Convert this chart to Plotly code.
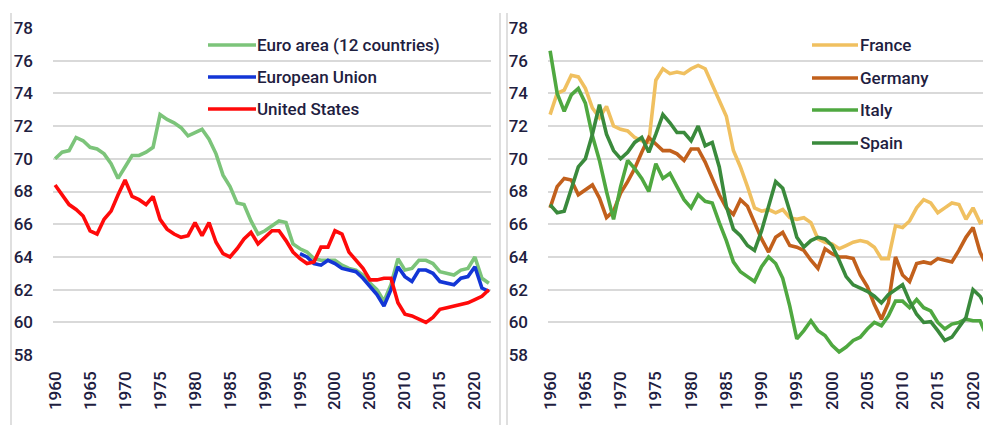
import plotly.graph_objects as go

years = list(range(1960, 2023))
eu_years = list(range(1995, 2023))

euro_area = [70.0, 70.4, 70.5, 71.3, 71.1, 70.7, 70.6, 70.3, 69.7, 68.8,
             69.5, 70.2, 70.2, 70.4, 70.7, 72.7, 72.4, 72.2, 71.9, 71.4,
             71.6, 71.8, 71.2, 70.3, 69.0, 68.3, 67.3, 67.2, 66.2, 65.4,
             65.6, 65.9, 66.2, 66.1, 64.8, 64.5, 64.3, 63.9, 63.8, 63.8,
             63.8, 63.5, 63.3, 63.2, 62.9, 62.4, 62.0, 61.3, 62.3, 63.9,
             63.2, 63.3, 63.8, 63.8, 63.6, 63.1, 63.0, 62.9, 63.2, 63.3,
             64.0, 62.7, 62.4]
european_union = [64.2, 64.0, 63.6, 63.5, 63.8, 63.6, 63.3, 63.2, 63.1, 62.7,
                  62.2, 61.7, 61.0, 62.0, 63.4, 62.8, 62.5, 63.2, 63.2, 63.0,
                  62.5, 62.4, 62.3, 62.7, 62.8, 63.4, 62.1, 61.9]
united_states = [68.4, 67.8, 67.2, 66.9, 66.5, 65.6, 65.4, 66.3, 66.8, 67.8,
                 68.7, 67.7, 67.5, 67.2, 67.7, 66.3, 65.7, 65.4, 65.2, 65.3,
                 66.1, 65.3, 66.1, 64.9, 64.2, 64.0, 64.5, 65.1, 65.5, 64.8,
                 65.2, 65.6, 65.6, 65.0, 64.3, 63.9, 63.6, 63.7, 64.6, 64.6,
                 65.6, 65.4, 64.3, 63.8, 63.3, 62.6, 62.6, 62.7, 62.7, 61.2,
                 60.5, 60.4, 60.2, 60.0, 60.3, 60.8, 60.9, 61.0, 61.1, 61.2,
                 61.4, 61.6, 62.0]

france = [72.7, 74.0, 74.2, 75.1, 75.0, 74.3, 73.1, 72.5, 73.2, 72.0,
          71.8, 71.7, 71.3, 71.1, 71.0, 74.8, 75.5, 75.2, 75.3, 75.2,
          75.5, 75.7, 75.5, 74.5, 73.5, 72.6, 70.5, 69.5, 68.3, 67.0,
          66.8, 66.9, 66.7, 66.9, 66.4, 66.3, 66.4, 66.1, 65.1, 64.9,
          64.8, 64.5, 64.7, 64.9, 65.0, 64.9, 64.6, 63.9, 63.9, 65.9,
          65.8, 66.2, 67.0, 67.5, 67.3, 66.7, 67.0, 67.3, 67.2, 66.3,
          67.0, 66.1, 66.3]
germany = [67.0, 68.3, 68.8, 68.7, 67.8, 68.1, 68.4, 67.6, 66.4, 66.8,
           67.9, 68.6, 69.4, 70.4, 71.3, 70.9, 70.5, 70.5, 70.3, 69.9,
           70.6, 70.6, 69.8, 68.8, 67.8, 67.0, 66.6, 67.5, 67.1, 66.1,
           65.1, 64.3, 65.2, 65.5, 64.7, 64.6, 64.4, 63.8, 63.3, 64.5,
           64.2, 64.0, 64.0, 63.9, 62.9, 62.2, 61.1, 60.2, 61.2, 64.0,
           62.9, 62.5, 63.6, 63.7, 63.6, 63.9, 63.8, 63.7, 64.4, 65.2,
           65.8, 64.3, 63.4]
italy = [76.6, 74.0, 72.9, 73.9, 74.3, 73.4, 71.4, 69.9, 68.0, 66.3,
         68.3, 69.9, 69.4, 68.8, 68.0, 69.7, 68.8, 69.1, 68.3, 67.5,
         67.0, 67.8, 67.4, 67.3, 66.1, 65.0, 63.7, 63.1, 62.8, 62.5,
         63.4, 64.0, 63.6, 62.7, 61.0, 59.0, 59.5, 60.1, 59.5, 59.2,
         58.6, 58.2, 58.5, 58.9, 59.1, 59.6, 60.0, 59.8, 60.4, 61.3,
         61.3, 60.9, 61.4, 60.9, 60.7, 60.0, 59.6, 59.9, 60.0, 60.2,
         60.1, 60.1, 59.1]
spain = [67.2, 66.7, 66.8, 68.2, 69.5, 70.0, 71.5, 73.3, 71.5, 70.5,
         70.0, 70.4, 71.0, 71.3, 70.4, 71.5, 72.7, 72.2, 71.6, 71.6,
         71.1, 72.0, 70.8, 71.0, 69.5, 67.1, 65.7, 65.3, 64.7, 64.4,
         65.6, 67.1, 68.6, 68.2, 66.8, 65.2, 64.6, 65.0, 65.2, 65.1,
         64.7, 63.8, 62.8, 62.3, 62.1, 61.9, 61.6, 61.2, 61.7, 62.0,
         62.3, 61.3, 60.5, 60.0, 60.05, 59.5, 58.9, 59.1, 59.7, 60.3,
         62.0, 61.6, 60.8]

y_ticks = [58, 60, 62, 64, 66, 68, 70, 72, 74, 76, 78]
x_ticks = list(range(1960, 2025, 5))

# page body has an 8px margin, so the figure is offset by (8, 8) on screen
OFF = 8
W, H = 991 - OFF, 425 - OFF
FONT = "Roboto, 'Liberation Sans', Arial, sans-serif"
TXT = "#1E2040"
GRID = "#D9D9D9"

C_EURO = "#7CC47A"
C_EU = "#1336D6"
C_US = "#FF0A0A"
C_FR = "#F0C060"
C_DE = "#C2601C"
C_IT = "#4FA840"
C_ES = "#3A8A3C"

fig = go.Figure()
LW = 3.6
left = [("Euro area (12 countries)", years, euro_area, C_EURO),
        ("European Union", eu_years, european_union, C_EU),
        ("United States", years, united_states, C_US)]
right = [("France", years, france, C_FR),
         ("Germany", years, germany, C_DE),
         ("Italy", years, italy, C_IT),
         ("Spain", years, spain, C_ES)]
for name, xs, ys, c in left:
    fig.add_trace(go.Scatter(x=xs, y=ys, name=name, mode="lines",
                             line=dict(color=c, width=LW), xaxis="x", yaxis="y",
                             showlegend=False))
for name, xs, ys, c in right:
    fig.add_trace(go.Scatter(x=xs, y=ys, name=name, mode="lines",
                             line=dict(color=c, width=LW), xaxis="x2", yaxis="y2",
                             showlegend=False))

def px(x):
    return (x - OFF) / W

def py(y):
    return 1 - (y - OFF) / H

ydom = [py(356), py(27)]
axis_font = dict(family=FONT, size=17, color=TXT, weight=500)
xcommon = dict(tickmode="array", tickvals=x_ticks, ticktext=[str(t) for t in x_ticks],
               tickangle=-90, showgrid=False, zeroline=False, showline=False,
               ticks="", tickfont=axis_font, ticklabelstandoff=11, automargin=False)
ycommon = dict(tickmode="array", tickvals=y_ticks, range=[57.95, 78.05],
               showgrid=True, gridcolor=GRID, gridwidth=2, zeroline=False,
               showline=False, ticks="", tickfont=axis_font, ticklabelstandoff=19,
               automargin=False)

fig.update_layout(
    width=W, height=H,
    margin=dict(l=0, r=0, t=0, b=0, autoexpand=False),
    paper_bgcolor="white", plot_bgcolor="white",
    xaxis=dict(domain=[px(53), px(491)], range=[1959.7, 2022.3], anchor="y", **xcommon),
    yaxis=dict(domain=ydom, anchor="x", **ycommon),
    xaxis2=dict(domain=[px(548), 1.0], range=[1959.7, 2022.55], anchor="y2", **xcommon),
    yaxis2=dict(domain=ydom, anchor="x2", **ycommon),
)

shapes = []
annotations = []
# panel borders
for bx in (11, 500, 507):
    shapes.append(dict(type="line", xref="paper", yref="paper",
                       x0=px(bx), x1=px(bx), y0=py(13), y1=0,
                       line=dict(color="#D4D4D4", width=1.5)))

# manual legends
def add_legend(items, lx0, lx1, tx, ys):
    for (name, _, _, c), yy in zip(items, ys):
        shapes.append(dict(type="line", xref="paper", yref="paper",
                           x0=px(lx0), x1=px(lx1), y0=py(yy), y1=py(yy),
                           line=dict(color=c, width=LW)))
        annotations.append(dict(xref="paper", yref="paper", x=px(tx), y=py(yy),
                                text=name, showarrow=False, xanchor="left",
                                yanchor="middle",
                                font=dict(family=FONT, size=17, color=TXT, weight=500)))

add_legend(left, 208, 256, 255, [45, 77, 109])
add_legend(right, 812, 858, 858, [45, 78, 110, 143])

fig.update_layout(shapes=shapes, annotations=annotations)
fig.write_html("out.html")
